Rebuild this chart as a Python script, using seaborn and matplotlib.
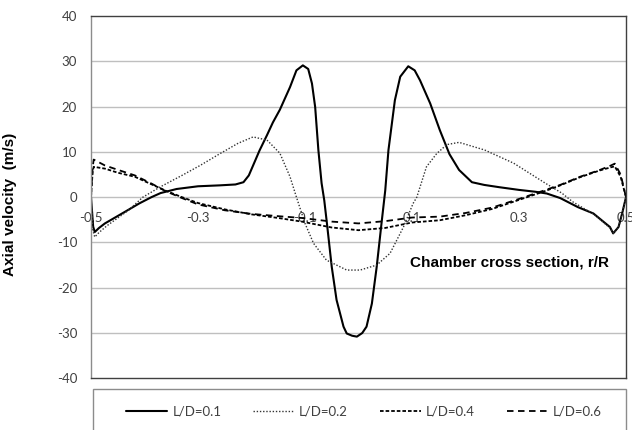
import matplotlib
matplotlib.use("Agg")
import matplotlib.pyplot as plt
import seaborn as sns
import pandas as pd
from matplotlib.patches import Rectangle

# ---- data ----
x_01 = [-0.5, -0.496, -0.493, -0.485, -0.474, -0.455, -0.436, -0.41, -0.387, -0.37, -0.34,
        -0.3, -0.26, -0.23, -0.215, -0.205, -0.197, -0.185, -0.171, -0.16, -0.147, -0.128,
        -0.116, -0.104, -0.094, -0.087, -0.081, -0.075, -0.069, -0.064, -0.059, -0.05,
        -0.041, -0.028, -0.022, -0.012, -0.003, 0.007, 0.015, 0.025, 0.034, 0.043, 0.05,
        0.056, 0.068, 0.078, 0.093, 0.105, 0.115, 0.134, 0.152, 0.17, 0.188, 0.212, 0.235,
        0.263, 0.3, 0.33, 0.352, 0.377, 0.41, 0.439, 0.47, 0.476, 0.486, 0.493, 0.5]
y_01 = [0, -6.5, -7.7, -6.8, -5.8, -4.5, -3.2, -1.4, 0.0, 0.9, 1.8,
        2.4, 2.6, 2.8, 3.3, 4.8, 7.0, 10.3, 13.7, 16.5, 19.3, 24.3,
        28.0, 29.1, 28.3, 25.1, 19.9, 10.4, 3.1, -0.7, -5.8, -15.4,
        -22.7, -28.6, -30.1, -30.6, -30.8, -30.0, -28.6, -23.5, -15.4, -5.8, 1.5,
        10.4, 21.4, 26.6, 28.9, 28.0, 25.8, 20.7, 14.8, 9.5, 6.0, 3.3, 2.7,
        2.2, 1.6, 1.2, 0.8, -0.2, -2.2, -3.6, -6.6, -8.0, -6.6, -3.5, 0]

x_02 = [-0.5, -0.497, -0.493, -0.485, -0.47, -0.45, -0.43, -0.403, -0.37, -0.33, -0.296,
        -0.259, -0.225, -0.197, -0.171, -0.147, -0.128, -0.116, -0.1, -0.084, -0.06,
        -0.022, 0.003, 0.034, 0.059, 0.084, 0.102, 0.109, 0.127, 0.146, 0.165, 0.188,
        0.236, 0.29, 0.349, 0.38, 0.4, 0.44, 0.47, 0.477, 0.486, 0.493, 0.5]
y_02 = [0, -7.0, -8.8, -7.8, -6.3, -4.6, -2.9, 0.0, 2.3, 4.8, 7.0,
        9.6, 11.9, 13.3, 12.6, 9.7, 4.5, 0.0, -5.8, -10.2, -13.9,
        -16.1, -16.1, -15.0, -12.4, -6.6, -1.4, 0.0, 6.7, 9.6, 11.6, 12.1,
        10.4, 7.5, 3.1, 0.9, -1.0, -3.8, -6.8, -8.0, -6.6, -3.5, 0]

x_04 = [-0.5, -0.497, -0.495, -0.474, -0.45, -0.418, -0.39, -0.36, -0.33, -0.3, -0.25,
        -0.2, -0.15, -0.106, -0.05, 0.0, 0.05, 0.1, 0.152, 0.2, 0.25, 0.3, 0.35,
        0.377, 0.414, 0.451, 0.472, 0.479, 0.49, 0.5]
y_04 = [0, 5.5, 6.7, 6.3, 5.4, 4.5, 3.0, 1.4, 0.0, -1.3, -2.7,
        -3.8, -4.6, -5.4, -6.7, -7.3, -6.8, -5.6, -5.1, -4.0, -2.6, -0.6, 1.4,
        2.6, 4.4, 5.9, 6.6, 6.8, 4.5, 0]

x_06 = [-0.5, -0.497, -0.495, -0.474, -0.449, -0.418, -0.387, -0.36, -0.33, -0.3, -0.25,
        -0.2, -0.15, -0.106, -0.05, 0.0, 0.05, 0.1, 0.152, 0.2, 0.25, 0.3, 0.35,
        0.377, 0.414, 0.451, 0.472, 0.479, 0.49, 0.5]
y_06 = [0, 6.5, 8.3, 7.0, 6.0, 4.8, 3.0, 1.3, -0.2, -1.6, -2.9,
        -3.7, -4.2, -4.6, -5.4, -5.8, -5.3, -4.5, -4.3, -3.5, -2.3, -0.4, 1.6,
        2.7, 4.5, 6.0, 7.0, 7.4, 5.0, 0]

labels = ["L/D=0.1", "L/D=0.2", "L/D=0.4", "L/D=0.6"]
y_ticks = [-40, -30, -20, -10, 0, 10, 20, 30, 40]
x_ticks = [-0.5, -0.3, -0.1, 0.1, 0.3, 0.5]
x_tick_labels = ["-0.5", "-0.3", "-0.1", "0.1", "0.3", "0.5"]

series = [(x_01, y_01), (x_02, y_02), (x_04, y_04), (x_06, y_06)]
frames = []
for lab, (xs, ys) in zip(labels, series):
    frames.append(pd.DataFrame({"r": xs, "v": ys, "case": lab}))
df = pd.concat(frames, ignore_index=True)

# ---- styling ----
sns.set_theme(style="white")
plt.rcParams["font.family"] = ["Lato", "DejaVu Sans"]

W, H = 632, 430
fig = plt.figure(figsize=(W / 100, H / 100), dpi=100)
L, R, T, B = 91, 626, 16, 378.3
ax = fig.add_axes([L / W, 1 - B / H, (R - L) / W, (B - T) / H])

styles = {
    "L/D=0.1": dict(lw=1.5, ls="-", color="black"),
    "L/D=0.2": dict(lw=1.0, ls=(0, (1, 1.3)), color="#333333"),
    "L/D=0.4": dict(lw=1.3, ls=(0, (2.0, 1.1)), color="black"),
    "L/D=0.6": dict(lw=1.3, ls=(0, (3.6, 2.5)), color="black"),
}
for lab in labels:
    st = styles[lab]
    sns.lineplot(data=df[df["case"] == lab], x="r", y="v", ax=ax, sort=False,
                 estimator=None, color=st["color"], linewidth=st["lw"],
                 linestyle=st["ls"], label=lab, legend=False)

ax.set_xlim(-0.5, 0.5)
ax.set_ylim(-40, 40)
ax.set_yticks(y_ticks)
ax.set_yticklabels([str(v) for v in y_ticks])
ax.set_xticks([])
ax.set_xlabel("")
ax.grid(False)
for v in y_ticks[1:-1]:
    ax.axhline(v, color="#BFBFBF", lw=1.0, zorder=0)
ax.tick_params(axis="y", length=0, pad=10, labelsize=9.5, labelcolor="#404040")

for s in ["top", "right", "bottom"]:
    ax.spines[s].set_color("#404040")
    ax.spines[s].set_linewidth(1.0)
ax.spines["left"].set_color("#8C8C8C")
ax.spines["left"].set_linewidth(1.0)

ax.set_ylabel("Axial velocity  (m/s)", fontsize=11, fontweight="bold",
              family=["Liberation Sans", "DejaVu Sans"], color="black")
ax.yaxis.set_label_coords(-0.138, 0.48)

# x tick labels along the zero line
sec = ax.secondary_xaxis(0.5)
sec.set_alignment("bottom")
sec.set_xticks(x_ticks)
sec.set_xticklabels(x_tick_labels)
sec.tick_params(axis="x", length=0, pad=11, labelsize=9.5, labelcolor="#404040")
for s in sec.spines.values():
    s.set_visible(False)

ax.text(0.596, 0.321, "Chamber cross section, r/R", transform=ax.transAxes,
        fontsize=11, fontweight="bold", family=["Liberation Sans", "DejaVu Sans"],
        ha="left", va="center", color="black")

# legend box
fig.patches.append(Rectangle((93 / W, -0.05), (626 - 93) / W, 1 - 389 / H + 0.05,
                             transform=fig.transFigure, fill=False,
                             edgecolor="#8C8C8C", lw=1.0))
handles = ax.get_lines()[:4]
leg = fig.legend(handles, labels, loc="center", ncol=4, frameon=False,
                 bbox_to_anchor=(364 / W, 1 - 411.7 / H), fontsize=9.5,
                 handlelength=3.1, handletextpad=0.4, columnspacing=2.4)
for t in leg.get_texts():
    t.set_color("#404040")

fig.savefig("out.png", dpi=100)
